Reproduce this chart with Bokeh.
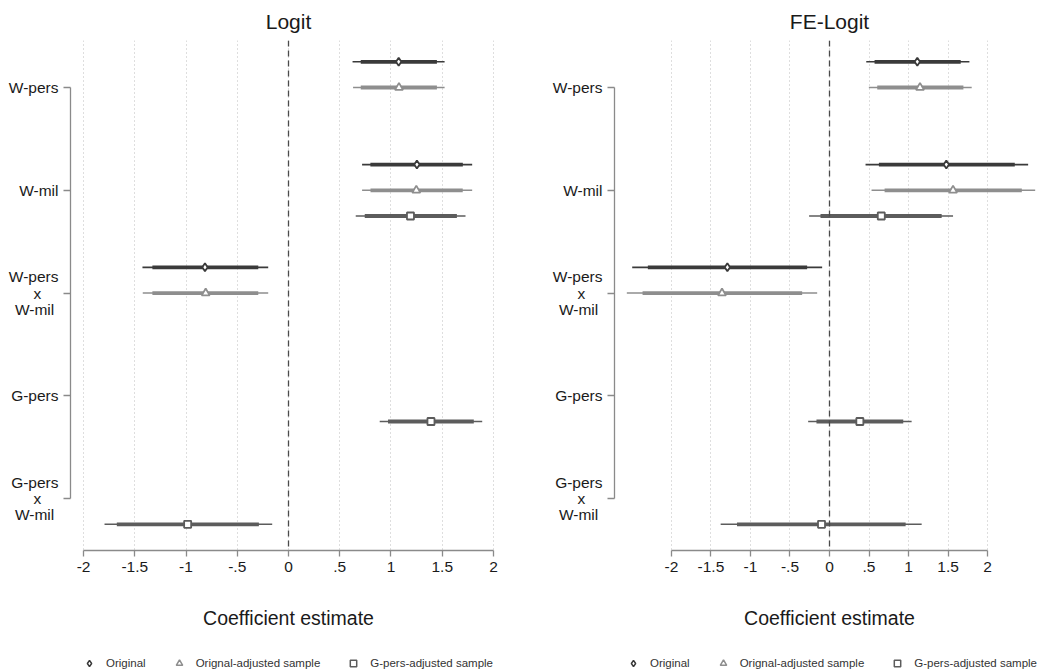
from bokeh.plotting import figure
from bokeh.layouts import row, column
from bokeh.models import Range1d, Span, Legend, LegendItem, FixedTicker, ColumnDataSource
from bokeh.embed import file_html
from bokeh.resources import INLINE

# ---------------- data ----------------
variables = ["W-pers", "W-mil", "W-pers x W-mil", "G-pers", "G-pers x W-mil"]
variable_labels = ["W-pers", "W-mil", "W-pers\nx\nW-mil", "G-pers", "G-pers\nx\nW-mil"]
series_names = ["Original", "Orignal-adjusted sample", "G-pers-adjusted sample"]
x_ticks = [-2, -1.5, -1, -0.5, 0, 0.5, 1, 1.5, 2]
x_tick_labels = ["-2", "-1.5", "-1", "-.5", "0", ".5", "1", "1.5", "2"]

# Logit
logit_orig_vars = ["W-pers", "W-mil", "W-pers x W-mil"]
logit_orig_est = [1.075, 1.253, -0.815]
logit_orig_lo95 = [0.625, 0.718, -1.425]
logit_orig_hi95 = [1.523, 1.792, -0.198]
logit_orig_lo90 = [0.705, 0.799, -1.328]
logit_orig_hi90 = [1.448, 1.701, -0.295]

logit_adj_vars = ["W-pers", "W-mil", "W-pers x W-mil"]
logit_adj_est = [1.078, 1.247, -0.808]
logit_adj_lo95 = [0.630, 0.718, -1.422]
logit_adj_hi95 = [1.523, 1.792, -0.198]
logit_adj_lo90 = [0.705, 0.800, -1.328]
logit_adj_hi90 = [1.448, 1.700, -0.295]

logit_gp_vars = ["W-mil", "G-pers", "G-pers x W-mil"]
logit_gp_est = [1.190, 1.390, -0.984]
logit_gp_lo95 = [0.656, 0.890, -1.795]
logit_gp_hi95 = [1.727, 1.890, -0.159]
logit_gp_lo90 = [0.744, 0.971, -1.675]
logit_gp_hi90 = [1.643, 1.808, -0.289]

# FE-Logit
fe_orig_vars = ["W-pers", "W-mil", "W-pers x W-mil"]
fe_orig_est = [1.111, 1.478, -1.292]
fe_orig_lo95 = [0.465, 0.456, -2.496]
fe_orig_hi95 = [1.770, 2.513, -0.093]
fe_orig_lo90 = [0.570, 0.625, -2.298]
fe_orig_hi90 = [1.660, 2.344, -0.283]

fe_adj_vars = ["W-pers", "W-mil", "W-pers x W-mil"]
fe_adj_est = [1.145, 1.563, -1.360]
fe_adj_lo95 = [0.498, 0.532, -2.564]
fe_adj_hi95 = [1.799, 2.602, -0.156]
fe_adj_lo90 = [0.604, 0.697, -2.365]
fe_adj_hi90 = [1.694, 2.433, -0.346]

fe_gp_vars = ["W-mil", "G-pers", "G-pers x W-mil"]
fe_gp_est = [0.655, 0.384, -0.101]
fe_gp_lo95 = [-0.258, -0.270, -1.377]
fe_gp_hi95 = [1.563, 1.039, 1.166]
fe_gp_lo90 = [-0.114, -0.165, -1.170]
fe_gp_hi90 = [1.419, 0.933, 0.963]

# ---------------- styles ----------------
FONT = "Liberation Sans"
series_colors = ["#3a3a3a", "#8e8e8e", "#5c5c5c"]
series_markers = ["diamond", "triangle", "square"]
series_sizes = [8, 8, 7]
series_offsets = [-1, 0, 1]
SLOT = 4  # slots per variable
NB = "\u00a0"


def pad_label(lbl):
    # centre the short middle line of the stacked labels (Stata centres each line)
    lines = lbl.split("\n")
    if len(lines) == 3:
        lines[1] = lines[1] + NB * 4
        lines[2] = lines[2] + NB
    return "\n".join(lines)


def make_panel(title, series_data, x_start, x_end, border_left, border_right, width):
    p = figure(width=width, height=640, output_backend="svg", toolbar_location=None,
               x_range=Range1d(x_start, x_end), y_range=Range1d(18.02, -1.83),
               min_border_left=border_left, min_border_right=border_right,
               min_border_top=40, min_border_bottom=90,
               background_fill_color="white", border_fill_color="white")
    p.outline_line_color = None
    p.title.text = title
    p.title.align = "center"
    p.title.text_font = FONT
    p.title.text_font_size = "21px"
    p.title.text_font_style = "normal"
    p.title.text_color = "#1a1a1a"
    p.title.standoff = 15

    # grid
    p.ygrid.visible = False
    p.xgrid.ticker = FixedTicker(ticks=x_ticks)
    p.xgrid.grid_line_color = "#bdbdbd"
    p.xgrid.grid_line_dash = "1 3"
    p.xgrid.grid_line_width = 1

    # x axis
    xa = p.xaxis[0]
    xa.ticker = FixedTicker(ticks=x_ticks)
    xa.major_label_overrides = {t: l for t, l in zip(x_ticks, x_tick_labels)}
    xa.bounds = (x_ticks[0], x_ticks[-1])
    xa.axis_line_color = "#8a8a8a"
    xa.axis_line_width = 1.3
    xa.major_tick_line_color = "#8a8a8a"
    xa.major_tick_line_width = 1.3
    xa.major_tick_out = 6
    xa.major_tick_in = 0
    xa.minor_tick_line_color = None
    xa.major_label_text_font = FONT
    xa.major_label_text_font_size = "15.5px"
    xa.major_label_text_color = "#1a1a1a"
    xa.major_label_standoff = 5
    xa.axis_label = "Coefficient estimate"
    xa.axis_label_text_font = FONT
    xa.axis_label_text_font_size = "19.5px"
    xa.axis_label_text_font_style = "normal"
    xa.axis_label_text_color = "#1a1a1a"
    xa.axis_label_standoff = 32

    # y axis
    ya = p.yaxis[0]
    y_ticks = [i * SLOT for i in range(len(variables))]
    ya.ticker = FixedTicker(ticks=y_ticks)
    ya.major_label_overrides = {t: pad_label(l) for t, l in zip(y_ticks, variable_labels)}
    ya.bounds = (y_ticks[0], y_ticks[-1])
    ya.axis_line_color = "#8a8a8a"
    ya.axis_line_width = 1.3
    ya.major_tick_line_color = "#8a8a8a"
    ya.major_tick_line_width = 1.3
    ya.major_tick_out = 7
    ya.major_tick_in = 0
    ya.minor_tick_line_color = None
    ya.major_label_text_font = FONT
    ya.major_label_text_font_size = "15.5px"
    ya.major_label_text_color = "#1a1a1a"
    ya.major_label_text_line_height = 0.95
    ya.major_label_standoff = 5

    # zero line
    p.add_layout(Span(location=0, dimension="height", line_color="#4a4a4a",
                      line_dash="6 4", line_width=1.3))

    sources = []
    for k, (vars_, est, lo95, hi95, lo90, hi90) in enumerate(series_data):
        ys = [variables.index(v) * SLOT + series_offsets[k] for v in vars_]
        src = ColumnDataSource(dict(y=ys, est=est, lo95=lo95, hi95=hi95, lo90=lo90, hi90=hi90))
        sources.append(src)
        c = series_colors[k]
        p.segment(x0="lo95", y0="y", x1="hi95", y1="y", source=src,
                  line_color=c, line_width=1.6)
        p.segment(x0="lo90", y0="y", x1="hi90", y1="y", source=src,
                  line_color=c, line_width=3.8)
        p.scatter(x="est", y="y", source=src, marker=series_markers[k],
                  size=series_sizes[k], fill_color="white", line_color=c,
                  line_width=1.8)
    return p, sources


logit_series = [
    (logit_orig_vars, logit_orig_est, logit_orig_lo95, logit_orig_hi95, logit_orig_lo90, logit_orig_hi90),
    (logit_adj_vars, logit_adj_est, logit_adj_lo95, logit_adj_hi95, logit_adj_lo90, logit_adj_hi90),
    (logit_gp_vars, logit_gp_est, logit_gp_lo95, logit_gp_hi95, logit_gp_lo90, logit_gp_hi90),
]
fe_series = [
    (fe_orig_vars, fe_orig_est, fe_orig_lo95, fe_orig_hi95, fe_orig_lo90, fe_orig_hi90),
    (fe_adj_vars, fe_adj_est, fe_adj_lo95, fe_adj_hi95, fe_adj_lo90, fe_adj_hi90),
    (fe_gp_vars, fe_gp_est, fe_gp_lo95, fe_gp_hi95, fe_gp_lo90, fe_gp_hi90),
]

p1, logit_sources = make_panel("Logit", logit_series, -2.127, 2.127, 70, 17, 523)
p2, fe_sources = make_panel("FE-Logit", fe_series, -2.72, 2.72, 91, 3, 524)

# ---------------- legend strip (one legend under each panel) ----------------
# the strip's ranges lie outside the data, so its series renderers only serve the legends
lg = figure(width=1047, height=32, output_backend="svg", toolbar_location=None,
            x_range=Range1d(50, 51), y_range=Range1d(50, 51), min_border=0,
            background_fill_color="white", border_fill_color="white")
lg.outline_line_color = None
lg.axis.visible = False
lg.grid.visible = False
proxies = []
for k in range(len(series_names)):
    proxies.append(lg.scatter(x="est", y="y", source=logit_sources[k],
                              marker=series_markers[k], size=series_sizes[k],
                              fill_color="white", line_color=series_colors[k], line_width=1.5))
for x_off in (81, 625):
    leg = Legend(items=[LegendItem(label=series_names[k], renderers=[proxies[k]])
                        for k in range(len(series_names))],
                 orientation="horizontal", location=(x_off, 1),
                 padding=0, margin=0, spacing=25, glyph_width=16, glyph_height=16,
                 label_standoff=9, label_text_font=FONT,
                 label_text_font_size="11.5px", label_text_color="#333333",
                 border_line_alpha=0, background_fill_alpha=0)
    lg.add_layout(leg, "center")

layout = column(row(p1, p2), lg)
open("out.html", "w").write(file_html(layout, INLINE))
